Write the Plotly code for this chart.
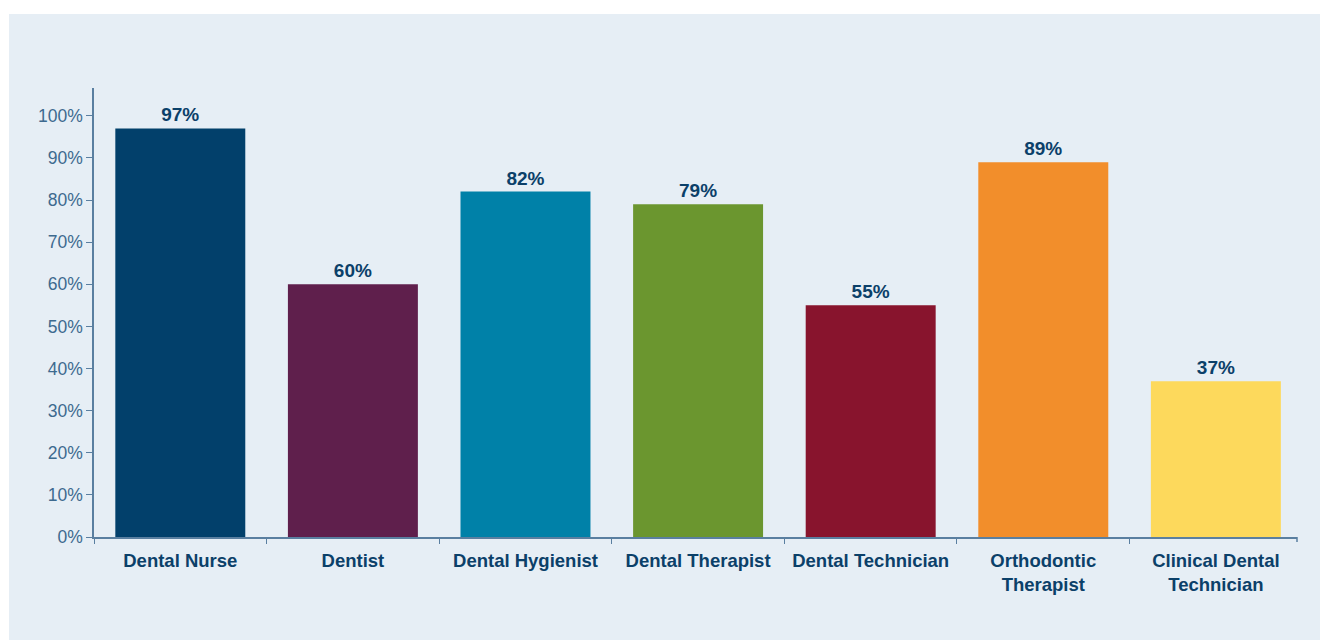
import plotly.graph_objects as go

categories = ["Dental Nurse", "Dentist", "Dental Hygienist", "Dental Therapist",
              "Dental Technician", "Orthodontic<br>Therapist", "Clinical Dental<br>Technician"]
values = [97, 60, 82, 79, 55, 89, 37]
labels = ["97%", "60%", "82%", "79%", "55%", "89%", "37%"]
colors = ["#02406b", "#5f1f4c", "#0081a8", "#6b962f", "#88142d", "#f28e2b", "#fdd95c"]
tick_vals = [0, 10, 20, 30, 40, 50, 60, 70, 80, 90, 100]
tick_text = ["0%", "10%", "20%", "30%", "40%", "50%", "60%", "70%", "80%", "90%", "100%"]

panel = "#e6eef5"
navy = "#0b4069"
axis_col = "#5a7fa0"

W, H = 1320, 640
L, R, T, B = 94, 23, 88, 103
pw, ph = W - L - R, H - T - B

fig = go.Figure(go.Bar(
    x=categories, y=values, marker=dict(color=colors, line=dict(width=0)),
    text=labels, textposition="outside", cliponaxis=False,
    textfont=dict(family="Liberation Sans, Arial, sans-serif", size=19, color=navy, weight="bold"),
    width=0.753,
))

fig.add_shape(type="rect", xref="paper", yref="paper", layer="below",
              x0=(9 - L) / pw, x1=(W - L) / pw + 0.01,
              y0=-(B + 5) / ph, y1=(H - B - 14) / ph,
              fillcolor=panel, line=dict(width=0))
# closing tick at the right end of the category axis
fig.add_shape(type="line", xref="paper", yref="paper",
              x0=1, x1=1, y0=0, y1=-5 / ph,
              line=dict(color=axis_col, width=1.5))

fig.update_layout(
    width=W, height=H,
    margin=dict(l=L, r=R, t=T, b=B, pad=0),
    paper_bgcolor="white", plot_bgcolor=panel,
    showlegend=False,
    font=dict(family="Liberation Sans, Arial, sans-serif", color=navy),
    xaxis=dict(range=[-0.5, 6.47], showline=True, linecolor=axis_col, linewidth=1.5,
               ticks="outside", tickson="boundaries", ticklen=5, tickcolor=axis_col,
               showgrid=False, ticklabelstandoff=6,
               tickfont=dict(size=18.5, color=navy, weight="bold")),
    yaxis=dict(range=[0, 106.6], showline=True, linecolor=axis_col, linewidth=1.5,
               ticks="outside", ticklen=6, tickcolor=axis_col, showgrid=False,
               zeroline=False, tickvals=tick_vals, ticktext=tick_text,
               tickfont=dict(size=17.5, color="#3d6a8f")),
)

fig.write_html("out.html", config={"displayModeBar": False},
               post_script="document.body.style.margin='0';document.body.style.overflow='hidden';")
